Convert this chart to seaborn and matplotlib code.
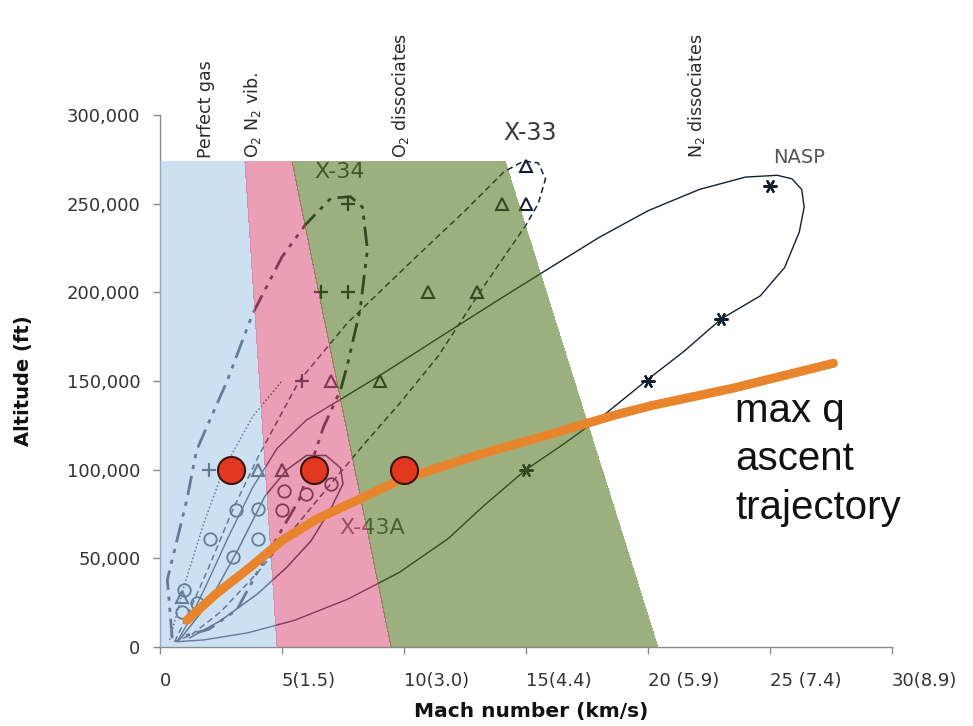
import numpy as np
import pandas as pd
import matplotlib
matplotlib.use("Agg")
import matplotlib.pyplot as plt
import matplotlib.transforms as mtransforms
import matplotlib.colors as mcolors
from matplotlib.patches import Polygon
import seaborn as sns

# ---------------- data ----------------
x_ticks = [0, 5, 10, 15, 20, 25, 30]
x_tick_labels = ["0", "5(1.5)", "10(3.0)", "15(4.4)", "20 (5.9)", "25 (7.4)", "30(8.9)"]
x_tick_numlen = [1, 1, 2, 2, 2, 2, 2]
y_ticks = [0, 50000, 100000, 150000, 200000, 250000, 300000]
y_tick_labels = ["0", "50,000", "100,000", "150,000", "200,000", "250,000", "300,000"]

# flow-regime bands (Mach at top / bottom edges)
band_top = 274000
band_left_top = [0.0, 3.48, 5.41]
band_right_top = [3.48, 5.41, 14.14]
band_left_bottom = [0.0, 4.8, 9.47]
band_right_bottom = [4.8, 9.47, 20.4]
band_colors = ["#cde1f3", "#eb9fb6", "#9caf7f"]

regime_labels = ["Perfect gas", "O$_2$ N$_2$ vib.", "O$_2$ dissociates", "N$_2$ dissociates"]
regime_label_mach = [1.9, 3.8, 9.85, 22.0]
regime_label_alt = 276000

# NASP trajectory
nasp_mach = [0.7, 1.2, 1.9, 2.8, 3.8, 4.8, 6.0, 7.2, 9.0, 11.5, 13.9, 16.0, 18.0, 20.0, 22.1,
             24.0, 25.3, 25.9, 26.3, 26.4, 26.2, 25.6, 24.6, 23.0, 21.5, 20.0, 18.3, 16.6, 15.0,
             13.3, 11.8, 9.8, 7.7, 5.5, 3.6, 1.8, 0.7]
nasp_alt = [3000, 15000, 35000, 62000, 90000, 112000, 128000, 138000, 153000, 175000, 196000,
            214000, 231000, 246000, 258000, 265000, 266000, 264000, 258000, 248000, 234000,
            214000, 198000, 185000, 167000, 151000, 132000, 115000, 100000, 80000, 61000,
            42000, 27000, 15000, 8000, 4000, 3000]
nasp_mark_mach = [25, 23, 20, 15]
nasp_mark_alt = [260000, 185000, 150000, 100000]

# X-33 trajectory
x33_mach = [0.6, 1.2, 2.0, 3.0, 4.05, 5.7, 7.7, 10.5, 12.5, 14.1, 14.9, 15.5, 15.8, 15.5,
            15.0, 13.2, 11.4, 9.8, 8.4, 7.0, 5.5, 4.0, 2.5, 1.3, 0.6]
x33_alt = [3000, 20000, 45000, 78000, 108000, 150000, 183000, 220000, 246000, 268000, 274000,
           273000, 264000, 250000, 238000, 202000, 164000, 137000, 115000, 92000, 67000,
           42000, 20000, 7000, 3000]
x33_mark_mach = [15, 14, 15, 11, 13, 9, 7, 4, 5, 0.9]
x33_mark_alt = [271000, 250000, 250000, 200000, 200000, 150000, 150000, 100000, 100000, 28000]

# X-34 trajectory
x34_mach = [0.5, 0.3, 1.1, 1.5, 2.75, 3.8, 5.0, 5.95, 7.0, 7.8, 8.3, 8.5, 8.2, 7.66, 7.4,
            6.7, 5.7, 4.1, 3.15, 2.0, 0.95]
x34_alt = [5000, 38000, 83000, 111000, 150000, 188000, 220000, 238000, 253000, 254000, 248000,
           224000, 190000, 158000, 145000, 124000, 83000, 45000, 21000, 10000, 6000]
x34_mark_mach = [7.7, 6.6, 7.7, 5.8, 2.0]
x34_mark_alt = [250000, 200000, 200000, 150000, 100000]

# X-43A trajectory
x43_mach = [0.8, 2.0, 3.2, 4.3, 5.2, 6.0, 6.8, 7.4, 7.5, 7.0, 6.2, 5.2, 4.0, 2.5, 1.2]
x43_alt = [4000, 25000, 55000, 85000, 100000, 108000, 108000, 101000, 92000, 78000, 60000,
           45000, 30000, 15000, 5000]
circ_mach = [5.1, 6.0, 7.0, 5.0, 3.1, 4.0, 2.05, 4.0, 3.0, 1.0, 0.9, 1.5]
circ_alt = [88000, 86000, 92000, 77000, 77000, 78000, 61000, 61000, 51000, 32000, 20000, 25000]

# additional dotted climb line
dot_mach = [0.4, 1.0, 1.8, 2.6, 3.8, 5.0]
dot_alt = [4000, 35000, 70000, 100000, 130000, 150000]

# design points and max-q ascent
design_mach = [2.9, 6.3, 10.0]
design_alt = [100000, 100000, 100000]
maxq_mach = [1.1, 2.3, 3.7, 5.0, 6.4, 7.8, 9.8, 13.2, 16.0, 18.7, 20.1, 23.5, 27.6]
maxq_alt = [15000, 30000, 45000, 60000, 72000, 81000, 94000, 109000, 120000, 131000, 136000,
            146000, 160000]

# ---------------- figure ----------------
sns.set_theme(style="ticks")
plt.rcParams["font.family"] = ["DejaVu Sans"]

fig = plt.figure(figsize=(9.73, 7.26), dpi=100)
ax = fig.add_axes([160 / 973, 79 / 726, 732 / 973, 532 / 726])
ax.set_xlim(0, 30)
ax.set_ylim(0, 300000)

line_color = "#16202c"


def traj(m, a, ls, lw=1.1, color=line_color, z=2):
    df = pd.DataFrame({"mach": m, "alt": a})
    sns.lineplot(data=df, x="mach", y="alt", sort=False, estimator=None, ax=ax,
                 color=color, linewidth=lw, linestyle=ls, zorder=z)


def marks(m, a, marker, ms, mew=1.3, color=line_color, z=2):
    df = pd.DataFrame({"mach": m, "alt": a})
    sns.lineplot(data=df, x="mach", y="alt", sort=False, estimator=None, ax=ax,
                 linestyle="", marker=marker, markersize=ms, markerfacecolor="none",
                 markeredgecolor=color, markeredgewidth=mew, zorder=z)


traj(nasp_mach, nasp_alt, "-", lw=1.0)
traj(x33_mach, x33_alt, (0, (4, 2.5)), lw=1.1)
traj(x34_mach, x34_alt, (0, (7, 2.5, 1.5, 2.5, 1.5, 2.5)), lw=2.0)
traj(x43_mach, x43_alt, "-", lw=1.1)
traj(dot_mach, dot_alt, (0, (1, 1.5)), lw=1.1)

marks(nasp_mark_mach, nasp_mark_alt, (6, 2, 90), 10, mew=1.6)
marks(x33_mark_mach, x33_mark_alt, "^", 8, mew=1.5)
marks(x34_mark_mach, x34_mark_alt, "+", 10, mew=1.6)
marks(circ_mach, circ_alt, "o", 9, mew=1.3)

# labels under the tinted bands
ax.text(7.38, 268000, "X-34", fontsize=16, color="#3a3a3a", ha="center", va="center", zorder=2.5)
ax.text(8.7, 67000, "X-43A", fontsize=16, color="#505050", ha="center", va="center", zorder=2.5)

# bands drawn on top with transparency so underlying lines get tinted
alpha_band = 0.55
for i in range(3):
    t = np.array(mcolors.to_rgb(band_colors[i]))
    b = np.clip((t - (1 - alpha_band)) / alpha_band, 0, 1)
    poly = Polygon([(band_left_bottom[i], 0), (band_left_top[i], band_top),
                    (band_right_top[i], band_top), (band_right_bottom[i], 0)],
                   closed=True, facecolor=b, edgecolor="none", alpha=alpha_band,
                   zorder=3, antialiased=False)
    ax.add_patch(poly)

# max-q ascent trajectory and design points
traj(maxq_mach, maxq_alt, "-", lw=6.5, color="#e8842c", z=5)
sns.scatterplot(x=design_mach, y=design_alt, s=380, color="#e2381f", edgecolor="#3a1510",
                linewidth=1.5, zorder=6, ax=ax)

# text annotations
for lab, m in zip(regime_labels, regime_label_mach):
    ax.text(m, regime_label_alt, lab, rotation=90, ha="center", va="bottom",
            fontsize=12.5, color="#2a2a2a", zorder=4)
ax.text(15.16, 290000, "X-33", fontsize=17, color="#3a3a3a", ha="center", va="center", zorder=4)
ax.text(26.2, 276000, "NASP", fontsize=14, color="#555555", ha="center", va="center", zorder=4)
ax.text(23.57, 106000, "max q\nascent\ntrajectory", fontsize=29, family="Liberation Sans",
        color="#111111", ha="left", va="center", linespacing=1.35, zorder=6, clip_on=False)

# axes styling
ax.set_xticks(x_ticks)
ax.set_xticklabels(x_tick_labels, ha="left", fontsize=13, color="#333333")
for lab, n in zip(ax.get_xticklabels(), x_tick_numlen):
    off = mtransforms.ScaledTranslation(-n * 5.7 / 100, 0, fig.dpi_scale_trans)
    lab.set_transform(lab.get_transform() + off)
ax.set_yticks(y_ticks)
ax.set_yticklabels(y_tick_labels, fontsize=13, color="#333333")
ax.tick_params(axis="both", direction="out", length=5, width=1, color="#8a8a8a")
ax.tick_params(axis="x", pad=13)
ax.tick_params(axis="y", pad=9)
for s in ["top", "right"]:
    ax.spines[s].set_visible(False)
for s in ["left", "bottom"]:
    ax.spines[s].set_color("#8a8a8a")
    ax.spines[s].set_linewidth(1)

ax.set_xlabel("Mach number (km/s)", fontsize=14.5, fontweight="bold", color="#111111")
ax.set_ylabel("Altitude (ft)", fontsize=14, fontweight="bold", color="#111111")
ax.xaxis.set_label_coords(0.507, -0.104)
ax.yaxis.set_label_coords(-0.1735, 0.5)

fig.savefig("out.png", dpi=100)
